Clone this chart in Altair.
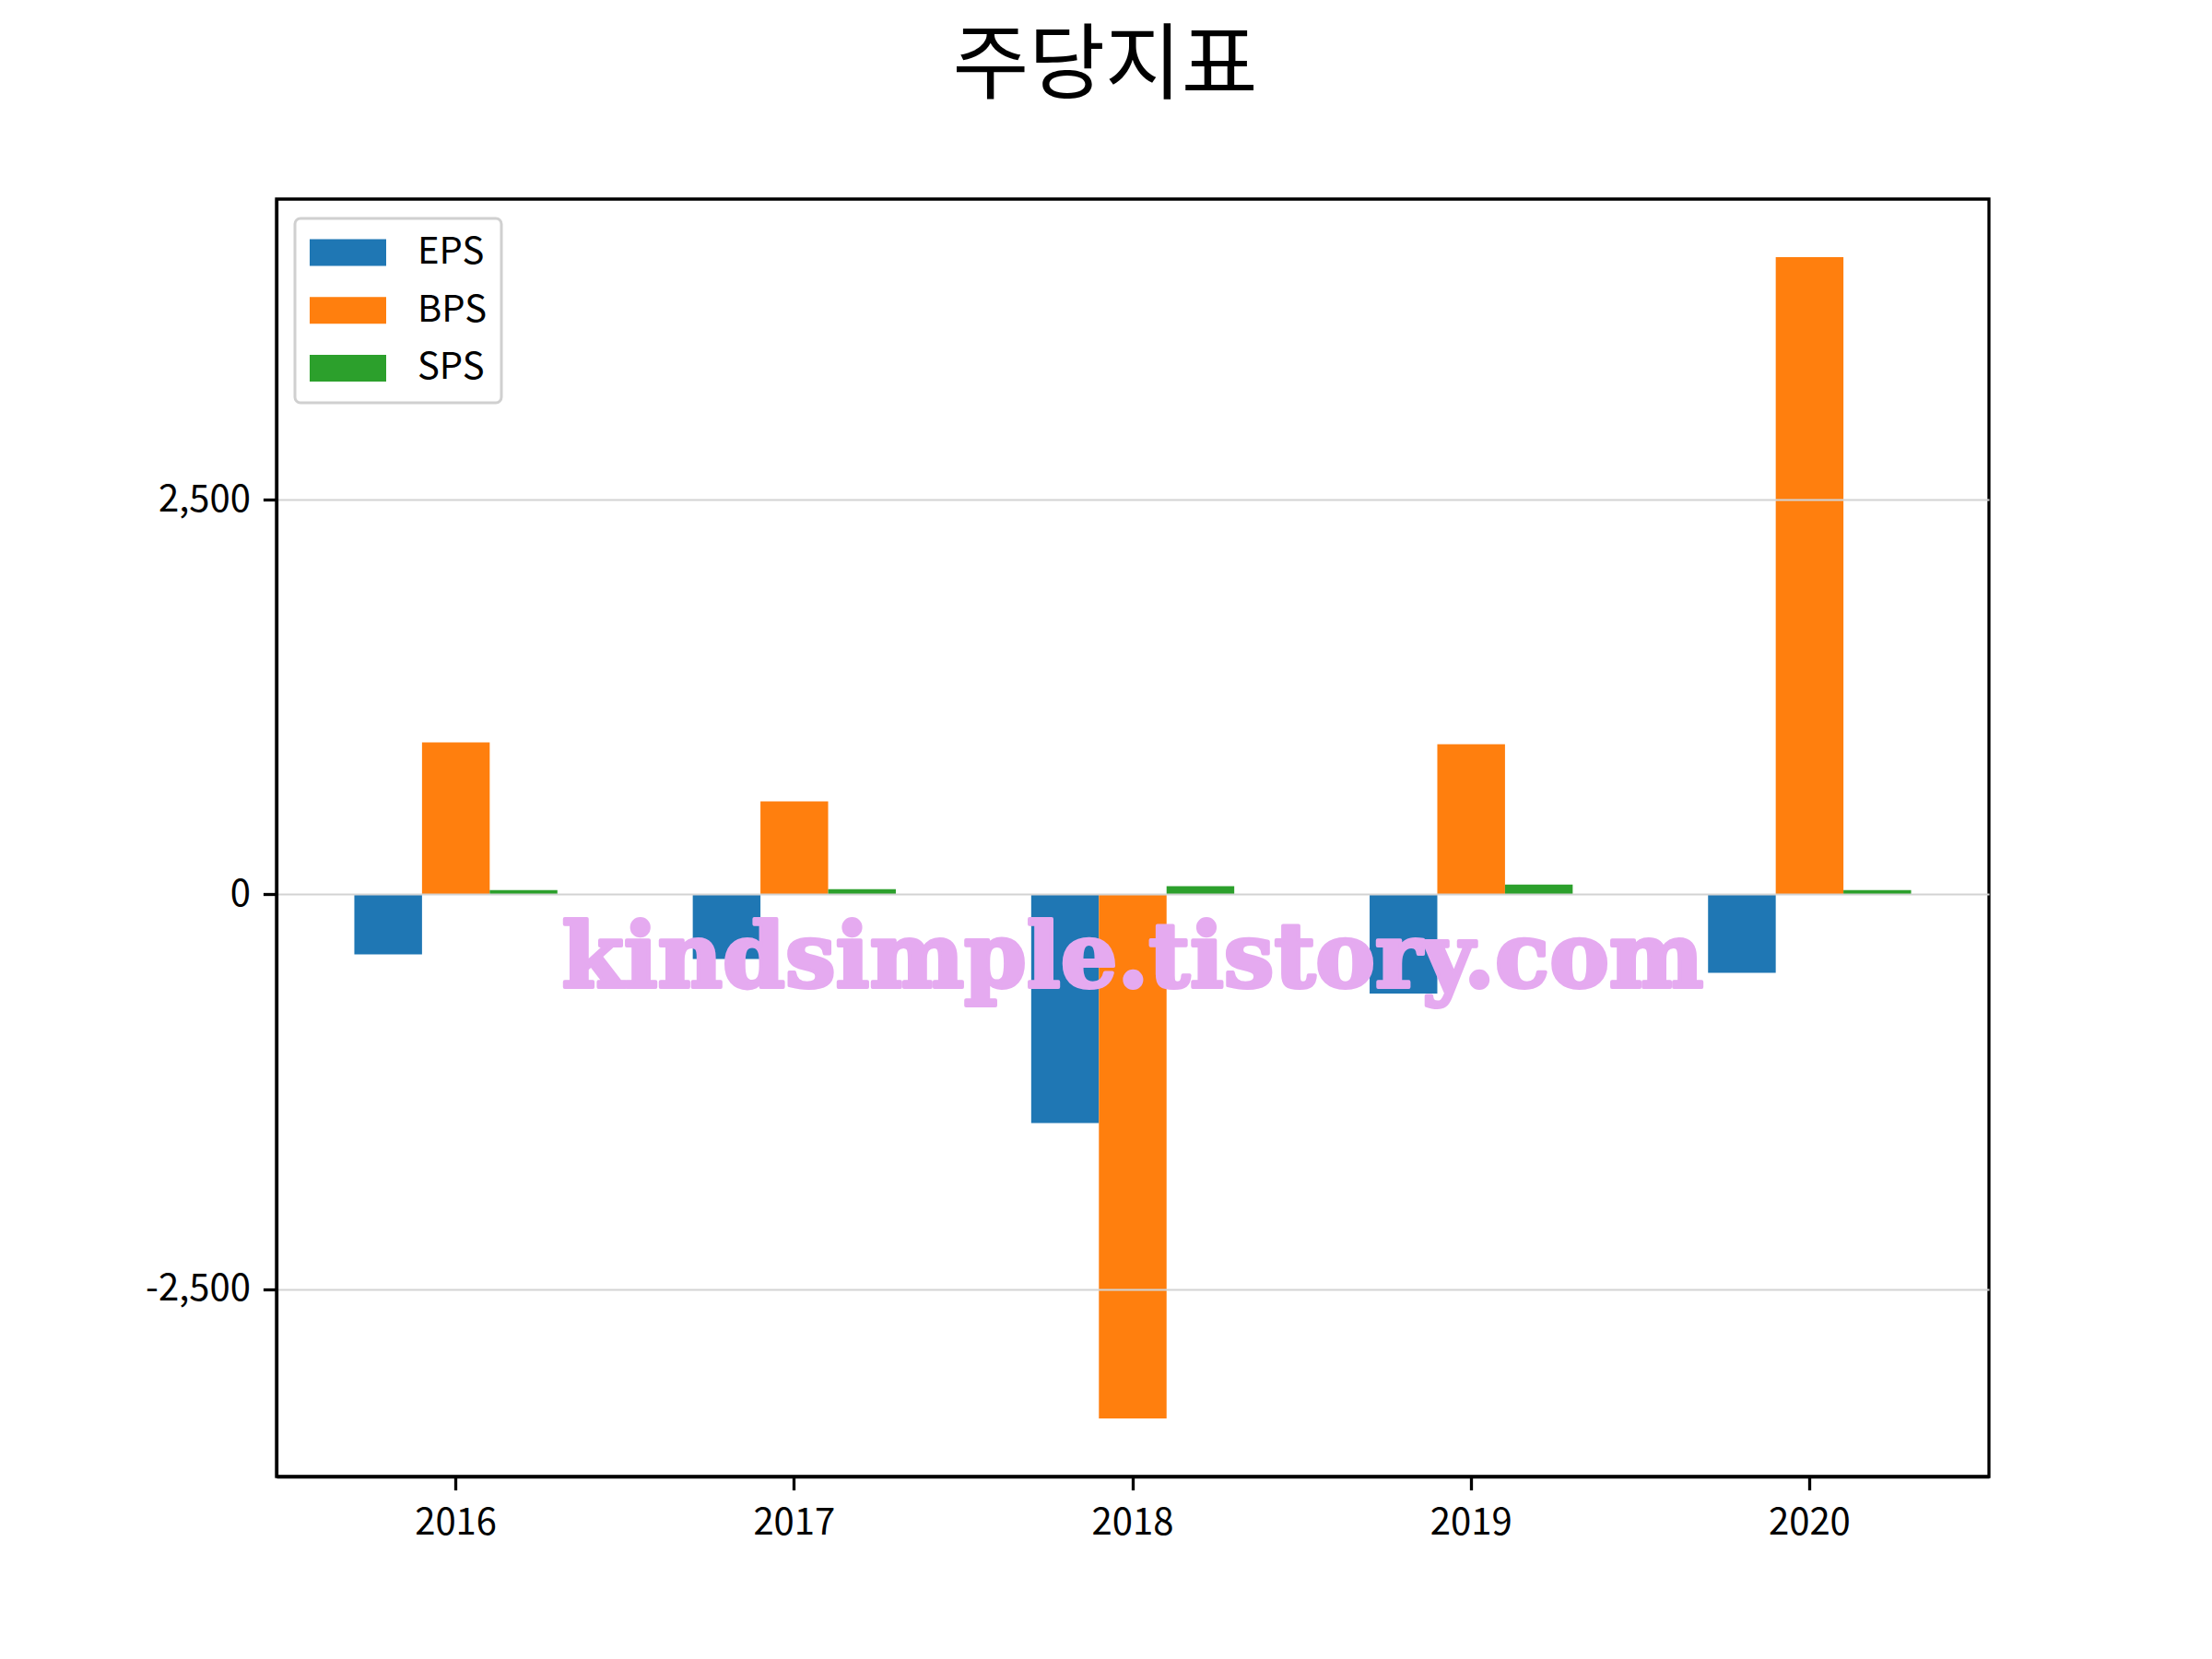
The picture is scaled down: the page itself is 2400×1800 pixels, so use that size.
import altair as alt
import pandas as pd

years = ["2016", "2017", "2018", "2019", "2020"]
metrics = ["EPS", "BPS", "SPS"]
eps = [-381, -410, -1449, -629, -498]
bps = [962, 588, -3320, 950, 4036]
sps = [27, 33, 51, 62, 27]
colors = ["#1f77b4", "#ff7f0e", "#2ca02c"]
y_ticks = [-2500, 0, 2500]
title_text = "주당지표"
watermark = "kindsimple.tistory.com"

rows = []
for m, vals in zip(metrics, [eps, bps, sps]):
    for yr, v in zip(years, vals):
        rows.append({"year": yr, "metric": m, "value": v})
df = pd.DataFrame(rows)

FONT = "Noto Sans CJK KR"

bars = alt.Chart(df).mark_bar().encode(
    x=alt.X("year:N", sort=years,
            scale=alt.Scale(paddingInner=0.4, paddingOuter=0.23),
            axis=alt.Axis(labelAngle=0, labelFontSize=40, labelFont=FONT, labelColor="black",
                          labelPadding=16, domainColor="black", domainWidth=3.3,
                          tickColor="black", tickWidth=3.3, tickSize=14.6,
                          grid=False, title=None)),
    xOffset=alt.XOffset("metric:N", sort=metrics,
                        scale=alt.Scale(paddingInner=0, paddingOuter=0)),
    y=alt.Y("value:Q",
            scale=alt.Scale(domain=[-3688, 4404], nice=False, zero=False),
            axis=alt.Axis(values=y_ticks,
                          labelExpr="datum.value < 0 ? '-' + format(abs(datum.value), ',') : format(datum.value, ',')",
                          grid=True, gridColor="#d3d3d3", gridWidth=2,
                          domainColor="black", domainWidth=3.3,
                          tickColor="black", tickWidth=3.3, tickSize=14.6,
                          labelFontSize=40, labelFont=FONT, labelColor="black",
                          labelPadding=14, title=None, zindex=1)),
    color=alt.Color("metric:N", sort=metrics,
                    scale=alt.Scale(domain=metrics, range=colors),
                    legend=alt.Legend(orient="none", legendX=20, legendY=21,
                                      title=None,
                                      symbolType="M-1,-0.35H1V0.35H-1Z",
                                      symbolSize=6889, symbolStrokeWidth=0,
                                      symbolOpacity=1, clipHeight=42,
                                      labelFontSize=40, labelFont=FONT, labelColor="black",
                                      labelOffset=34, padding=16,
                                      strokeColor="#d0d0d0",
                                      fillColor="rgba(255,255,255,0.8)",
                                      cornerRadius=6, rowPadding=20.7)),
)

wm_df = pd.DataFrame({"t": [watermark]})
wm = alt.Chart(wm_df).mark_text(
    font="DejaVu Serif", fontWeight="bold", fontSize=97, color="#E5AAF0",
    stroke="#E5AAF0", strokeWidth=4, strokeJoin="round",
    align="center", baseline="alphabetic"
).encode(text="t:N", x=alt.value(929), y=alt.value(855))

chart = alt.layer(bars, wm).properties(
    width=1858, height=1386,
    autosize=alt.AutoSizeParams(type="none"),
    padding={"left": 292, "top": 208, "right": 220, "bottom": 180},
    title=alt.TitleParams(text=title_text, fontSize=90, font=FONT, fontWeight="normal",
                          anchor="middle", dx=-30, offset=26, baseline="alphabetic",
                          color="black"),
).configure_view(stroke="black", strokeWidth=3.3).configure_legend(strokeWidth=3)

chart.save("out.html", embed_options={"renderer": "svg", "actions": False})
